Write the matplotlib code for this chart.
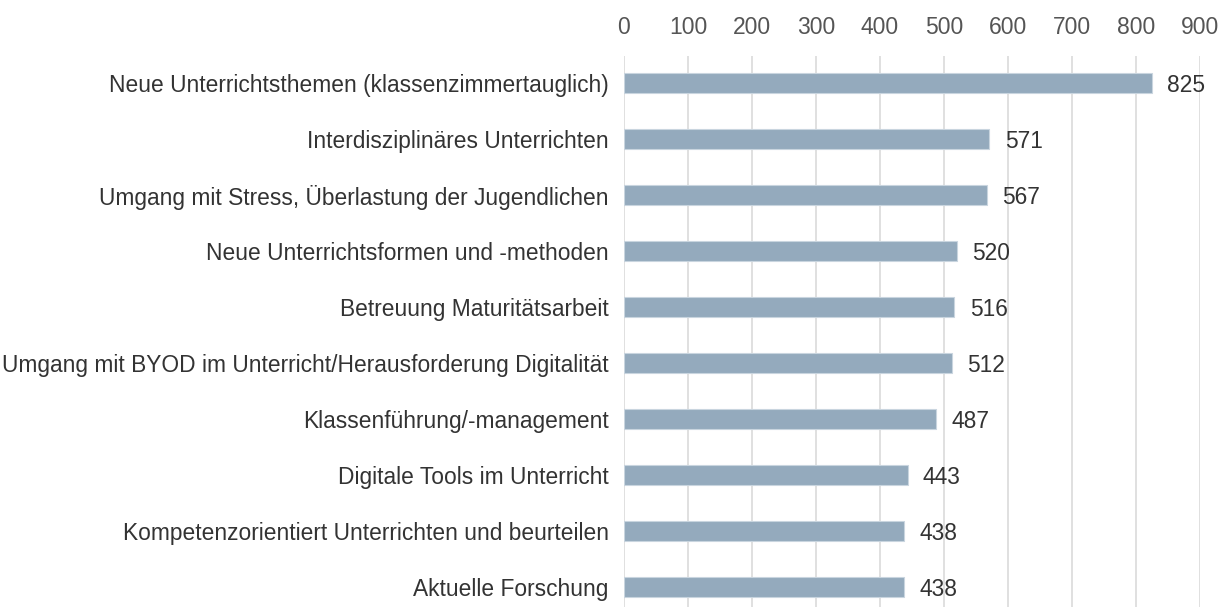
import matplotlib
matplotlib.use("Agg")
import matplotlib.pyplot as plt

categories = [
    "Neue Unterrichtsthemen (klassenzimmertauglich)",
    "Interdisziplinäres Unterrichten",
    "Umgang mit Stress, Überlastung der Jugendlichen",
    "Neue Unterrichtsformen und -methoden",
    "Betreuung Maturitätsarbeit",
    "Umgang mit BYOD im Unterricht/Herausforderung Digitalität",
    "Klassenführung/-management",
    "Digitale Tools im Unterricht",
    "Kompetenzorientiert Unterrichten und beurteilen",
    "Aktuelle Forschung",
]
values = [825, 571, 567, 520, 516, 512, 487, 443, 438, 438]
ticks = [0, 100, 200, 300, 400, 500, 600, 700, 800, 900]

plt.rcParams['font.family'] = ['Liberation Sans', 'DejaVu Sans']

fig = plt.figure(figsize=(12.3, 6.07), dpi=100)
ax = fig.add_axes([624 / 1230, 0, 576 / 1230, 1 - 56 / 607])

pos = list(range(len(categories)))
ax.barh(pos, values, height=0.36, color="#94aabd", edgecolor="#c9d5df",
        linewidth=0.8, zorder=3)
for p, v in zip(pos, values):
    ax.text(v + 24, p + 0.04, str(v), va="center", ha="left", fontsize=16.4,
            color="#333333")

ax.set_xlim(0, 900)
ax.set_ylim(9 + 0.36, -0.48)
ax.set_xticks(ticks)
ax.set_yticks(pos)
ax.set_yticklabels(categories)
ax.xaxis.tick_top()
ax.tick_params(axis="x", length=0, pad=12, labelsize=16.5, labelcolor="#555555")
ax.tick_params(axis="y", length=0, pad=11, labelsize=16.4, labelcolor="#333333")
ax.grid(axis="x", color="#dddddd", linewidth=1.3, zorder=0)
for s in ax.spines.values():
    s.set_visible(False)

fig.savefig("out.png", dpi=100)
